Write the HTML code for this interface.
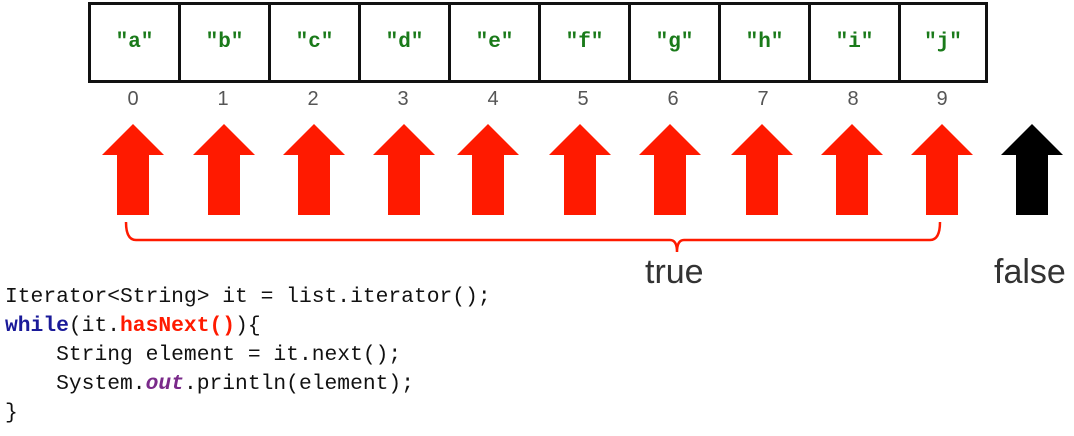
<!DOCTYPE html>
<html><head><style>
body{margin:0;width:1074px;height:436px;background:#fff;overflow:hidden;position:relative;font-family:"Liberation Sans",sans-serif}
.c{position:absolute;top:2px;height:75px;border:3px solid #111;box-sizing:content-box;display:flex;align-items:center;justify-content:center;color:#1a7a1a;font-weight:bold;font-family:"Liberation Mono",monospace;font-size:21px}
.n{position:absolute;top:88px;width:40px;text-align:center;color:#555;font-size:20px}
pre{position:absolute;left:5px;top:283px;margin:0;font-family:"Liberation Mono",monospace;font-size:21.3px;line-height:29px;color:#111}
</style></head><body>
<div class="c" style="left:88px;width:87px">"a"</div>
<div class="c" style="left:178px;width:87px">"b"</div>
<div class="c" style="left:268px;width:87px">"c"</div>
<div class="c" style="left:358px;width:87px">"d"</div>
<div class="c" style="left:448px;width:87px">"e"</div>
<div class="c" style="left:538px;width:87px">"f"</div>
<div class="c" style="left:628px;width:87px">"g"</div>
<div class="c" style="left:718px;width:87px">"h"</div>
<div class="c" style="left:808px;width:87px">"i"</div>
<div class="c" style="left:898px;width:84px">"j"</div>
<div class="n" style="left:113px">0</div>
<div class="n" style="left:203px">1</div>
<div class="n" style="left:293px">2</div>
<div class="n" style="left:383px">3</div>
<div class="n" style="left:473px">4</div>
<div class="n" style="left:563px">5</div>
<div class="n" style="left:653px">6</div>
<div class="n" style="left:743px">7</div>
<div class="n" style="left:833px">8</div>
<div class="n" style="left:922px">9</div>
<svg width="1074" height="436" style="position:absolute;left:0;top:0">
<defs><path id="a" d="M0,124 L31,155 L16,155 L16,215 L-16,215 L-16,155 L-31,155 Z"/></defs>
<g fill="#ff1a00">
<use href="#a" x="133"/><use href="#a" x="224"/><use href="#a" x="314"/><use href="#a" x="404"/><use href="#a" x="488"/><use href="#a" x="580"/><use href="#a" x="670"/><use href="#a" x="762"/><use href="#a" x="852"/><use href="#a" x="942"/>
</g>
<use href="#a" x="1032" fill="#000"/>
<path d="M126,222 Q126,240 136,240 L670,240 Q677,240 677,252 Q677,240 684,240 L930,240 Q940,240 940,222" fill="none" stroke="#ff1a00" stroke-width="2.5"/>
<text x="645" y="283" font-size="34" fill="#333" font-family="Liberation Sans">true</text>
<text x="994" y="283" font-size="34" fill="#333" font-family="Liberation Sans">false</text>
</svg>
<pre>Iterator&lt;String&gt; it = list.iterator();
<b style="color:#1a1a99">while</b>(it.<b style="color:#ff1a00">hasNext()</b>){
    String element = it.next();
    System.<b style="color:#7a2a8a;font-style:italic">out</b>.println(element);
}</pre>
</body></html>
